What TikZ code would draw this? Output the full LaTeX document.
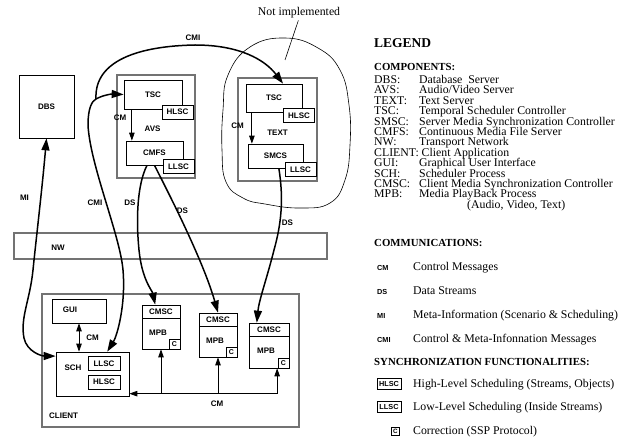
\documentclass[tikz,border=0pt]{standalone}
\usepackage{fontspec}
\setmainfont{Liberation Serif}
\setsansfont{Liberation Sans}
\usetikzlibrary{arrows.meta, positioning, calc}
\newcommand{\diagfont}{\sffamily\bfseries\fontsize{8}{9}\selectfont}
\newcommand{\abbrfont}{\sffamily\bfseries\fontsize{7.3}{8}\selectfont}

\begin{document}
\begin{tikzpicture}[x=1pt, y=-1pt,
    box/.style={draw, line width=0.7pt, inner sep=0pt, font=\diagfont},
    frame/.style={draw=black!55, line width=1.3pt, inner sep=0pt},
    sub/.style={draw, fill=white, line width=0.8pt, inner sep=0pt,
                minimum width=31pt, minimum height=14pt, font=\diagfont},
    cbox/.style={draw, fill=white, line width=0.7pt, inner sep=0pt,
                 minimum width=11pt, minimum height=10pt,
                 font=\sffamily\bfseries\fontsize{7}{8}\selectfont},
    lbl/.style={inner sep=0pt, font=\diagfont},
    heavy/.style={line width=1.5pt, >={Triangle[length=12pt,width=8pt]}},
    cmline/.style={line width=0.8pt, >={Triangle[length=8pt,width=5.5pt]}},
    legtitle/.style={inner sep=0pt, font=\bfseries\fontsize{13.5}{15}\selectfont},
    leghead/.style={inner sep=0pt, font=\bfseries\fontsize{10.8}{12}\selectfont},
    legtxt/.style={inner sep=0pt, font=\fontsize{11.8}{12}\selectfont},
    legabbr/.style={inner sep=0pt, font=\abbrfont},
    legbox/.style={draw, line width=0.8pt, inner sep=0pt, minimum width=24pt,
                   minimum height=11pt, font=\abbrfont},
]
\useasboundingbox (0,0) rectangle (627,438);

% database server
\node[box, minimum width=55pt, minimum height=63pt] (dbs) at (46.5,106.5) {DBS};

% audio/video server
\node[frame, minimum width=78pt, minimum height=103pt] (avs) at (156,126.5) {};
\node[lbl] (lavs) at (152.5,128.5) {AVS};
\node[box, minimum width=58pt, minimum height=29pt] (avstsc) at (153,94.5) {TSC};
\node[sub] (avshlsc) at (177.5,112) {HLSC};
\node[box, minimum width=57pt, minimum height=24pt] (cmfs) at (154.5,153) {CMFS};
\node[sub] (avsllsc) at (178.5,166.5) {LLSC};

% text server, not implemented
\node[frame, minimum width=79pt, minimum height=103pt] (txt) at (277.5,129.5) {};
\node[lbl] (ltxt) at (277.5,133) {TEXT};
\node[box, minimum width=56pt, minimum height=28pt] (txttsc) at (274,98) {TSC};
\node[sub] (txthlsc) at (299,115.5) {HLSC};
\node[box, minimum width=55pt, minimum height=24pt] (smcs) at (275.5,156) {SMCS};
\node[sub] (txtllsc) at (300.5,169.5) {LLSC};
\draw[line width=0.6pt] plot[smooth cycle, tension=0.75] coordinates {(228,75) (250,47)
  (285,38) (318,48) (340,70) (349,105) (350,145) (345,180) (330,203) (300,208) (265,204)
  (243,198) (226,182) (222,150) (223,110)};
\node[legtxt] (notimpl) at (299,13) {Not implemented};
\coordinate (blobpt) at (285,60);
\draw[line width=0.6pt, shorten <=2pt] (notimpl.south) -- (blobpt);

% network
\node[frame, minimum width=313pt, minimum height=26pt] (nw) at (170.5,246) {};
\node[lbl] (lnw) at (58,248) {NW};

% client
\node[frame, minimum width=257pt, minimum height=133pt] (client) at (170.5,360.5) {};
\node[lbl, anchor=west] (lclient) at (49,416) {CLIENT};
\node[box, minimum width=54pt, minimum height=24pt] (gui) at (79,311) {};
\node[lbl] (lgui) at (70,310) {GUI};
\node[box, minimum width=73pt, minimum height=44pt] (sch) at (92.5,374) {};
\node[lbl] (lsch) at (73,368) {SCH};
\node[sub, minimum width=32pt] (schllsc) at (104,363.5) {LLSC};
\node[sub, minimum width=32pt] (schhlsc) at (104,382) {HLSC};

\node[box, minimum width=38pt, minimum height=44pt] (mpb1) at (161,327) {};
\node[box, anchor=north, minimum width=38pt, minimum height=13pt] (cmsc1) at (mpb1.north) {CMSC};
\node[lbl] (lmpb1) at ($(cmsc1.south)+(-3,14)$) {MPB};
\node[cbox, anchor=south east] (c1) at (mpb1.south east) {C};

\node[box, minimum width=38pt, minimum height=44pt] (mpb2) at (218,335) {};
\node[box, anchor=north, minimum width=38pt, minimum height=13.5pt] (cmsc2) at (mpb2.north) {CMSC};
\node[lbl] (lmpb2) at ($(cmsc2.south)+(-3,14)$) {MPB};
\node[cbox, anchor=south east] (c2) at (mpb2.south east) {C};

\node[box, minimum width=40pt, minimum height=45pt] (mpb3) at (269,345.5) {};
\node[box, anchor=north, minimum width=40pt, minimum height=13.5pt] (cmsc3) at (mpb3.north) {CMSC};
\node[lbl] (lmpb3) at ($(cmsc3.south)+(-3,14)$) {MPB};
\node[cbox, anchor=south east] (c3) at (mpb3.south east) {C};

% control messages
\coordinate (avscm) at ($(avstsc.south west)!0.14!(avstsc.south east)$);
\draw[cmline,->] (avscm) -- (avscm |- cmfs.north);
\node[lbl] (lavscm) at (120,118) {CM};
\coordinate (txtcm) at ($(txttsc.south west)!0.11!(txttsc.south east)$);
\draw[cmline,->] (txtcm) -- (txtcm |- smcs.north);
\node[lbl] (ltxtcm) at (237.5,126) {CM};
\draw[cmline,<->] (gui.south) -- (gui.south |- sch.north);
\node[lbl] (lguicm) at (92.5,338) {CM};
\coordinate (busend) at ($(sch.north east)!0.94!(sch.south east)$);
\coordinate (bus3) at ($(mpb3.south west)!0.7!(mpb3.south east)$);
\draw[cmline,->] (bus3 |- busend) -- (busend);
\draw[cmline,->] (mpb1.south |- busend) -- (mpb1.south);
\draw[cmline,->] (mpb2.south |- busend) -- (mpb2.south);
\draw[cmline,->] (bus3 |- busend) -- (bus3);
\node[lbl] (lbuscm) at (217,404) {CM};

% meta-information
\coordinate (schmi) at ($(sch.north west)!0.1!(sch.south west)$);
\draw[heavy,<->] (dbs.south) .. controls (42,190) and (36,240) .. (33,270)
  .. controls (30,300) and (20,318) .. (24,338) .. controls (27,352) and (42,356) .. (schmi);
\node[lbl] (lmi) at (24.5,198) {MI};

% control & meta-information
\coordinate (schcmi) at ($(sch.north west)!0.7!(sch.north east)$);
\coordinate (cmijoin) at (96,99);
\draw[heavy,<->] (schcmi) .. controls (117,336) and (126,305) .. (123,270)
  .. controls (120,235) and (90,165) .. (88,125) .. controls (88,108) and (92,101) .. (cmijoin)
  .. controls (103,95) and (112,94) .. (avstsc.west);
\node[lbl] (lcmi1) at (95,203) {CMI};
\coordinate (txtcmi) at ($(txttsc.north west)!0.66!(txttsc.north east)$);
\draw[heavy,->] (cmijoin) .. controls (94,60) and (140,46) .. (195,45)
  .. controls (240,45) and (265,60) .. (txtcmi);
\node[lbl] (lcmi2) at (193,38) {CMI};

% data streams
\coordinate (ds1a) at ($(cmfs.south west)!0.37!(cmfs.south east)$);
\coordinate (ds1b) at ($(mpb1.north west)!0.35!(mpb1.north east)$);
\draw[heavy,->] (ds1a) .. controls (137,185) and (136,220) .. (139,250)
  .. controls (142,280) and (152,290) .. (ds1b);
\node[lbl] (lds1) at (130,203) {DS};
\draw[heavy,->] (cmfs.south) .. controls (168,192) and (203,260) .. (mpb2.north);
\node[lbl] (lds2) at (182.5,211) {DS};
\coordinate (ds3a) at ($(smcs.south west)!0.56!(smcs.south east)$);
\coordinate (ds3b) at ($(mpb3.north west)!0.2!(mpb3.north east)$);
\draw[heavy,->] (ds3a) .. controls (284,200) and (281,225) .. (274,250)
  .. controls (267,278) and (259,300) .. (ds3b);
\node[lbl] (lds3) at (287.5,223) {DS};

% legend
\node[legtitle, anchor=base west] (legend) at (374,47.5) {LEGEND};
\node[leghead, anchor=base west] (comps) at (374,70.5) {COMPONENTS:};
\node[legtxt, anchor=base west] (kdbs) at (374,83.5) {DBS:};
\node[legtxt, anchor=base west] (ddbs) at (419,83.5) {Database\ \ Server};
\node[legtxt, anchor=base west] (kavs) at (374,93.9) {AVS:};
\node[legtxt, anchor=base west] (davs) at (419,93.9) {Audio/Video Server};
\node[legtxt, anchor=base west] (ktext) at (374,104.3) {TEXT:};
\node[legtxt, anchor=base west] (dtext) at (419,104.3) {Text Server};
\node[legtxt, anchor=base west] (ktsc) at (374,114.7) {TSC:};
\node[legtxt, anchor=base west] (dtsc) at (419,114.7) {Temporal Scheduler Controller};
\node[legtxt, anchor=base west] (ksmsc) at (374,125.1) {SMSC:};
\node[legtxt, anchor=base west] (dsmsc) at (419,125.1) {Server Media Synchronization Controller};
\node[legtxt, anchor=base west] (kcmfs) at (374,135.5) {CMFS:};
\node[legtxt, anchor=base west] (dcmfs) at (419,135.5) {Continuous Media File Server};
\node[legtxt, anchor=base west] (knw) at (374,145.9) {NW:};
\node[legtxt, anchor=base west] (dnw) at (419,145.9) {Transport Network};
\node[legtxt, anchor=base west] (kclient) at (374,156.3) {CLIENT:};
\node[legtxt, anchor=base west] (dclient) at ($(kclient.base east)+(2.5,0)$) {Client Application};
\node[legtxt, anchor=base west] (kgui) at (374,166.7) {GUI:};
\node[legtxt, anchor=base west] (dgui) at (419,166.7) {Graphical User Interface};
\node[legtxt, anchor=base west] (ksch) at (374,177.1) {SCH:};
\node[legtxt, anchor=base west] (dsch) at (419,177.1) {Scheduler Process};
\node[legtxt, anchor=base west] (kcmsc) at (374,187.5) {CMSC:};
\node[legtxt, anchor=base west] (dcmsc) at (419,187.5) {Client Media Synchronization Controller};
\node[legtxt, anchor=base west] (kmpb) at (374,197.9) {MPB:};
\node[legtxt, anchor=base west] (dmpb) at (419,197.9) {Media PlayBack Process};
\node[legtxt, anchor=base west] (dmpb2) at (467,208.3) {(Audio, Video, Text)};

\node[leghead, anchor=base west] (comms) at (374,247) {COMMUNICATIONS:};
\node[legabbr, anchor=base west] (kcm) at (377,271) {CM};
\node[legtxt, anchor=base west] (dcm) at (413,271) {Control Messages};
\node[legabbr, anchor=base west] (kds) at (377,294.5) {DS};
\node[legtxt, anchor=base west] (dds) at (413,294.5) {Data Streams};
\node[legabbr, anchor=base west] (kmi) at (377,318.5) {MI};
\node[legtxt, anchor=base west] (dmi) at (413,318.5) {Meta-Information (Scenario \& Scheduling)};
\node[legabbr, anchor=base west] (kcmi) at (377,342.5) {CMI};
\node[legtxt, anchor=base west] (dcmi) at (413,342.5) {Control \& Meta-Infonnation Messages};

\node[leghead, anchor=base west] (syncs) at (374,366) {SYNCHRONIZATION FUNCTIONALITIES:};
\node[legbox] (khlsc) at (389,383.5) {HLSC};
\node[legtxt, anchor=base west] (dhlsc) at (413,387.5) {High-Level Scheduling (Streams, Objects)};
\node[legbox] (kllsc) at (389,407) {LLSC};
\node[legtxt, anchor=base west] (dllsc) at (413,411) {Low-Level Scheduling (Inside Streams)};
\node[legbox, minimum width=8pt, minimum height=8pt,
      font=\sffamily\bfseries\fontsize{6.3}{7}\selectfont] (kc) at (395.5,431) {C};
\node[legtxt, anchor=base west] (dc) at (413,434.5) {Correction (SSP Protocol)};
\end{tikzpicture}
\end{document}
